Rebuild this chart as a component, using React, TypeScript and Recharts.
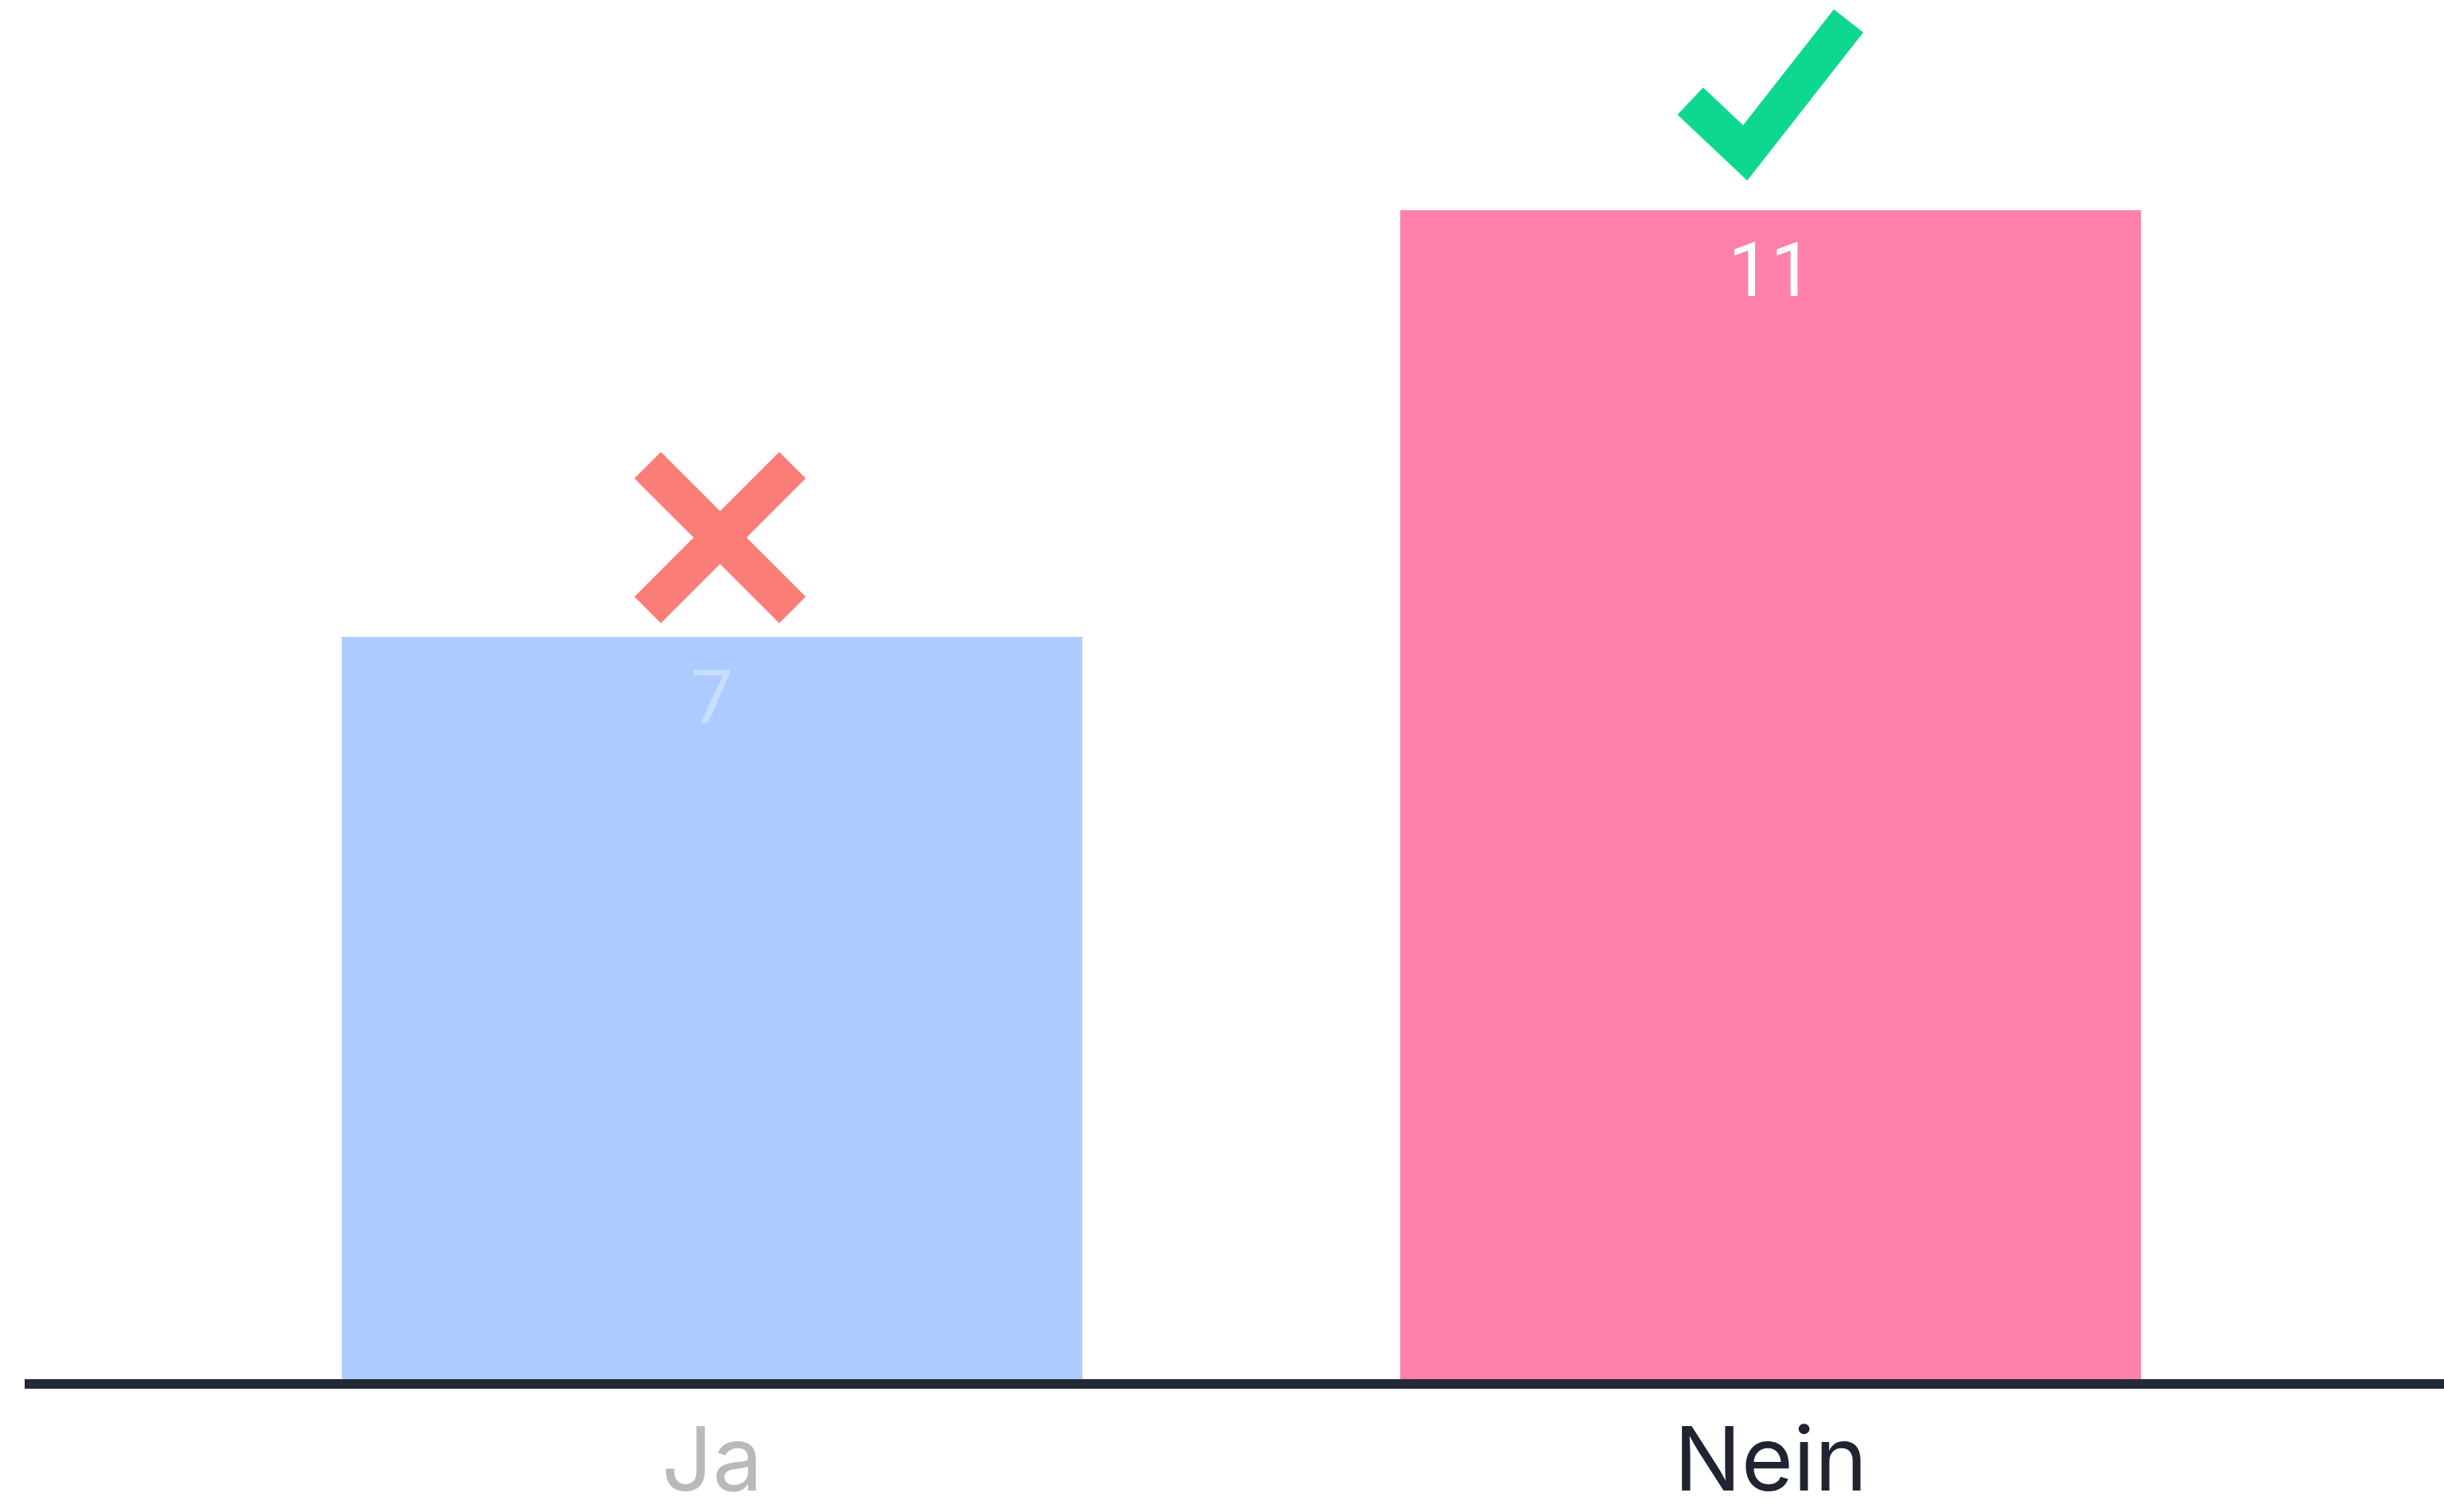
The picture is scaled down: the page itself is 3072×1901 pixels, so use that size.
import React from 'react'
import { BarChart, Bar, XAxis, YAxis, Cell, LabelList } from 'recharts'

const categories = ['Ja', 'Nein']
const votes = [7, 11]
const barColors = ['#adcbfe', '#ff80a9']
const tickColors = ['#b9b9bb', '#1f2430']
const valueOpacity = [0.35, 1]
const marks = ['cross', 'check']

const data = categories.map((name, i) => ({ name, votes: votes[i] }))

const CategoryTick = (props: any) => {
  const { x, y, payload, index } = props
  return (
    <text
      x={x}
      y={y + 134}
      textAnchor="middle"
      fontFamily="Inter, 'Open Sans', sans-serif"
      fontSize={112}
      fill={tickColors[index]}
    >
      {payload.value}
    </text>
  )
}

const ValueLabel = (props: any) => {
  const { x, y, width, value, index } = props
  const cx = Number(x) + Number(width) / 2
  const top = Number(y)
  const mark = marks[index]
  return (
    <g>
      <text
        x={cx}
        y={top + 108}
        textAnchor="middle"
        fontFamily="Roboto, sans-serif"
        fontSize={95}
        fill="#ffffff"
        fillOpacity={valueOpacity[index]}
      >
        {value}
      </text>
      {mark === 'cross' && (
        <g stroke="#fb7d77" strokeWidth={47} strokeLinecap="butt">
          <line x1={cx + 10 - 91} y1={top - 125 - 91} x2={cx + 10 + 91} y2={top - 125 + 91} />
          <line x1={cx + 10 - 91} y1={top - 125 + 91} x2={cx + 10 + 91} y2={top - 125 - 91} />
        </g>
      )}
      {mark === 'check' && (
        <polyline
          points={`${cx - 101},${top - 137} ${cx - 32},${top - 72} ${cx + 98},${top - 238}`}
          fill="none"
          stroke="#0ed890"
          strokeWidth={47}
          strokeLinejoin="miter"
          strokeMiterlimit={4}
          strokeLinecap="butt"
        />
      )}
    </g>
  )
}

export default function App() {
  return (
    <div style={{ position: 'absolute', left: 0, top: 0, background: '#fff' }}>
      <BarChart
        width={3072}
        height={1900}
        data={data}
        margin={{ top: 130, right: 0, bottom: 0, left: 31 }}
        barCategoryGap="15%"
      >
        <YAxis hide domain={[0, 12]} />
        <Bar dataKey="votes" isAnimationActive={false}>
          {data.map((d, i) => (
            <Cell key={d.name} fill={barColors[i]} />
          ))}
          <LabelList dataKey="votes" content={<ValueLabel />} />
        </Bar>
        <XAxis
          dataKey="name"
          axisLine={{ stroke: '#232a36', strokeWidth: 12 }}
          tickLine={false}
          tickSize={0}
          tickMargin={0}
          height={160}
          padding={{ left: 199, right: 181 }}
          tick={<CategoryTick />}
          interval={0}
        />
      </BarChart>
    </div>
  )
}
